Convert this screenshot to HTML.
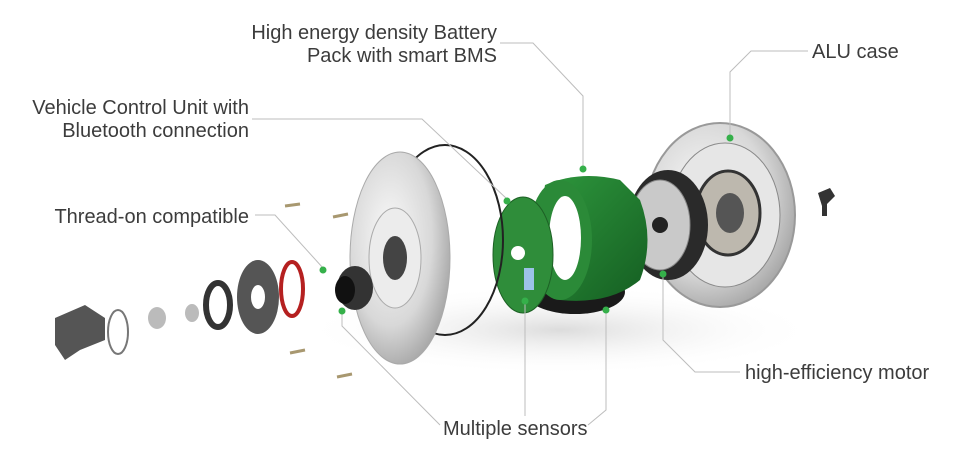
<!DOCTYPE html>
<html><head><meta charset="utf-8"><style>
html,body{margin:0;padding:0;background:#fff;}
svg{display:block}
text{font-family:"Liberation Sans",sans-serif;font-size:20px;fill:#3c3c3c}
</style></head><body>
<svg width="970" height="468" viewBox="0 0 970 468" xmlns="http://www.w3.org/2000/svg">
<defs>
<radialGradient id="sil" cx="40%" cy="40%" r="70%"><stop offset="0" stop-color="#fafafa"/><stop offset="0.6" stop-color="#d8d8d8"/><stop offset="1" stop-color="#9a9a9a"/></radialGradient>
<linearGradient id="grn" x1="0" y1="0" x2="1" y2="1"><stop offset="0" stop-color="#2f9a3e"/><stop offset="1" stop-color="#155e22"/></linearGradient>
<radialGradient id="sh" cx="50%" cy="50%" r="50%"><stop offset="0" stop-color="#dcdcdc"/><stop offset="1" stop-color="#fff" stop-opacity="0"/></radialGradient>
</defs>
<rect width="970" height="468" fill="#fff"/>
<ellipse cx="560" cy="330" rx="260" ry="45" fill="url(#sh)"/>
<!-- ALU case -->
<ellipse cx="720" cy="215" rx="75" ry="92" fill="url(#sil)" stroke="#999" stroke-width="2"/>
<ellipse cx="725" cy="215" rx="55" ry="72" fill="#e6e6e6" stroke="#888"/>
<ellipse cx="728" cy="213" rx="32" ry="42" fill="#bdb8ae" stroke="#333" stroke-width="3"/>
<ellipse cx="730" cy="213" rx="14" ry="20" fill="#555"/>
<!-- motor -->
<ellipse cx="668" cy="225" rx="40" ry="55" fill="#2a2a2a"/>
<ellipse cx="660" cy="225" rx="30" ry="45" fill="#c9c9c9" stroke="#888"/>
<circle cx="660" cy="225" r="8" fill="#222"/>
<!-- battery -->
<ellipse cx="575" cy="292" rx="50" ry="22" fill="#1a1a1a"/>
<path d="M545 185 Q580 170 620 180 L640 200 Q655 240 640 280 Q610 305 560 300 L530 275 Z" fill="url(#grn)"/>
<ellipse cx="560" cy="240" rx="32" ry="60" fill="#2b8a38"/>
<ellipse cx="565" cy="238" rx="16" ry="42" fill="#fff"/>
<!-- PCB -->
<ellipse cx="523" cy="255" rx="30" ry="58" fill="#2f8d3a" stroke="#1d6025"/>
<circle cx="518" cy="253" r="7" fill="#fff"/>
<rect x="524" y="268" width="10" height="22" fill="#9cc2e8"/>
<!-- cable -->
<ellipse cx="445" cy="240" rx="58" ry="95" fill="none" stroke="#222" stroke-width="2"/>
<!-- disc -->
<ellipse cx="400" cy="258" rx="50" ry="106" fill="url(#sil)" stroke="#aaa"/>
<ellipse cx="395" cy="258" rx="26" ry="50" fill="#ececec" stroke="#aaa"/>
<ellipse cx="395" cy="258" rx="12" ry="22" fill="#444"/>
<!-- freewheel -->
<ellipse cx="355" cy="288" rx="18" ry="22" fill="#333"/>
<ellipse cx="345" cy="290" rx="10" ry="14" fill="#111"/>
<!-- red o-ring -->
<ellipse cx="292" cy="289" rx="11" ry="27" fill="none" stroke="#b52020" stroke-width="4"/>
<!-- sprocket -->
<ellipse cx="258" cy="297" rx="21" ry="37" fill="#555"/>
<ellipse cx="258" cy="297" rx="7" ry="12" fill="#fff"/>
<!-- lockring -->
<ellipse cx="218" cy="305" rx="12" ry="22" fill="none" stroke="#333" stroke-width="6"/>
<ellipse cx="192" cy="313" rx="7" ry="9" fill="#bbb"/>
<ellipse cx="157" cy="318" rx="9" ry="11" fill="#bbb"/>
<!-- axle nut -->
<path d="M55 318 L85 305 L105 318 L105 340 L80 350 L65 360 L55 345 Z" fill="#555"/>
<ellipse cx="118" cy="332" rx="10" ry="22" fill="none" stroke="#777" stroke-width="2"/>
<path d="M818 193 l12-5 l5 8 l-8 8 l0 12 l-5 0 l0-10 Z" fill="#333"/>
<!-- screws -->
<g stroke="#a89870" stroke-width="3"><line x1="285" y1="206" x2="300" y2="204"/><line x1="333" y1="217" x2="348" y2="214"/><line x1="290" y1="353" x2="305" y2="350"/><line x1="337" y1="377" x2="352" y2="374"/></g>
<!-- leader lines -->
<g fill="none" stroke="#bdbdbd" stroke-width="1">
<polyline points="500,43 533,43 583,96 583,168"/>
<polyline points="252,119 422,119 507,199"/>
<polyline points="255,215 275,215 323,268"/>
<polyline points="808,51 751,51 730,72 730,137"/>
<polyline points="740,372 695,372 663,340 663,275"/>
<polyline points="440,425 342,326 342,312"/>
<polyline points="525,416 525,303"/>
<polyline points="588,425 606,410 606,311"/>
</g>
<g fill="#35b04a">
<circle cx="583" cy="169" r="3.5"/><circle cx="507" cy="201" r="3.5"/><circle cx="323" cy="270" r="3.5"/>
<circle cx="730" cy="138" r="3.5"/><circle cx="663" cy="274" r="3.5"/><circle cx="342" cy="311" r="3.5"/>
<circle cx="525" cy="301" r="3.5"/><circle cx="606" cy="310" r="3.5"/>
</g>
<text x="497" y="39" text-anchor="end">High energy density Battery</text>
<text x="497" y="62" text-anchor="end">Pack with smart BMS</text>
<text x="249" y="114" text-anchor="end">Vehicle Control Unit with</text>
<text x="249" y="137" text-anchor="end">Bluetooth connection</text>
<text x="249" y="223" text-anchor="end">Thread-on compatible</text>
<text x="812" y="58">ALU case</text>
<text x="745" y="379">high-efficiency motor</text>
<text x="443" y="435">Multiple sensors</text>
</svg>
</body></html>
